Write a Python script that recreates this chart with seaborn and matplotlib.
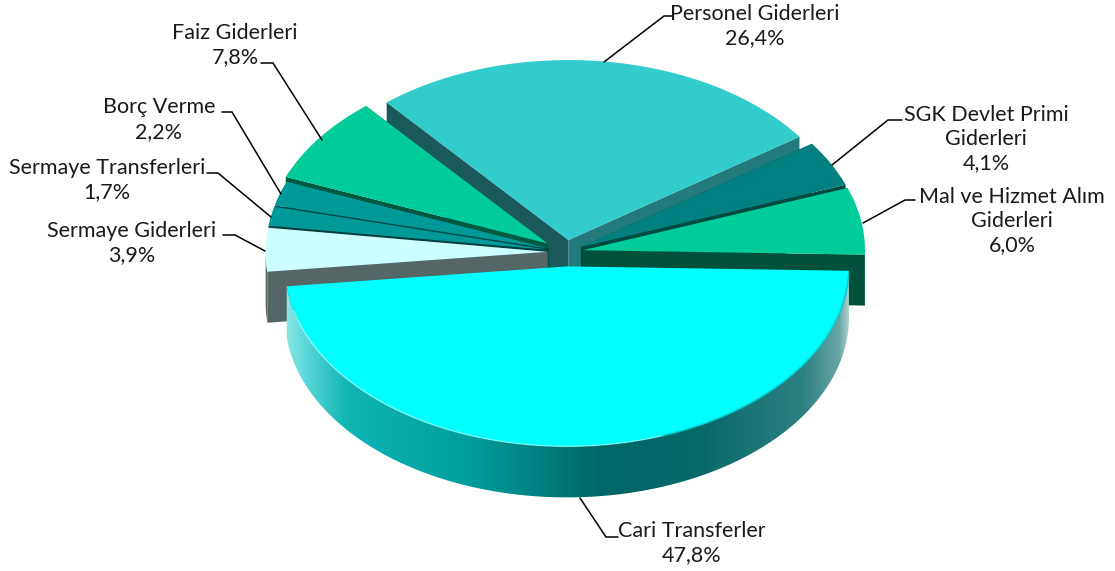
import numpy as np
import seaborn as sns
import matplotlib
matplotlib.use("Agg")
import matplotlib.pyplot as plt
from matplotlib.colors import LinearSegmentedColormap
from matplotlib.patches import Polygon

# values, counter-clockwise from the right edge of the big slice
categories = ["Mal ve Hizmet Alım\nGiderleri", "SGK Devlet Primi\nGiderleri", "Personel Giderleri",
              "Faiz Giderleri", "Borç Verme", "Sermaye Transferleri", "Sermaye Giderleri", "Cari Transferler"]
shares = [6.0, 4.1, 26.4, 7.8, 2.2, 1.7, 3.9, 47.8]

top_colors = ["#00CC99", "#008080", "#33CCCC", "#00CC99", "#009999", "#009999", "#CCFFFF", "#00FFFF"]
edge1_colors = ["#00503C", "#004A40", "#237A7A", "#006040", "#004A4A", "#004A4A", "#335555"]
edge2_colors = ["#00503C", "#004A40", "#1A5A5A", "#005A40", "#004A4A", "#003F3F", "#556666"]
explode = [0.061, 0.06, 0.067, 0.08, 0.065, 0.065, 0.065, 0.08]
draw_order = [2, 1, 3, 4, 5, 6, 0]

W, H = 1115, 571
CX, CY, RX, RY = 566, 252, 282, 180
DEPTH = 51 / RY

sns.set_theme(style="white")
plt.rcParams["font.family"] = ["Lato", "DejaVu Sans"]


def px(x, y):
    return (x - CX) / RX, (CY - y) / RY


def arc(w, a, b, n=200):
    t = np.radians(np.linspace(a, b, n))
    return np.column_stack([w.center[0] + w.r * np.cos(t), w.center[1] + w.r * np.sin(t)])


def radial_wall(w, angle):
    tip = arc(w, angle, angle, 1)[0]
    c = np.array(w.center)
    d = np.array([0, -DEPTH])
    return np.array([c, tip, tip + d, c + d])


def rim_wall(w, a, b):
    top = arc(w, a, b)
    return np.vstack([top, top[::-1] + [0, -DEPTH]])


fig = plt.figure(figsize=(W / 100, H / 100), dpi=100)
ax = fig.add_axes([0, 0, 1, 1])
wedges, _ = ax.pie(shares, colors=sns.color_palette(top_colors), explode=explode,
                   startangle=-1.4, counterclock=True, radius=1,
                   wedgeprops={"linewidth": 0})
ax.set_aspect("auto")

for rank, i in enumerate(draw_order):
    w = wedges[i]
    z = 3 * rank + 1
    w.set_zorder(z + 1)
    ax.fill(*radial_wall(w, w.theta1).T, color=edge1_colors[i], lw=0, zorder=z)
    ax.fill(*radial_wall(w, w.theta2).T, color=edge2_colors[i], lw=0, zorder=z)
    # outer wall, only where it faces the viewer
    if i == 0:
        ax.fill(*rim_wall(w, w.theta1, 0).T, color=edge1_colors[i], lw=0, zorder=z)
    if i == 6:
        ax.fill(*rim_wall(w, 180, w.theta2).T, color=edge2_colors[i], lw=0, zorder=z)

# shaded outer wall of the big slice
big = wedges[7]
big.set_zorder(3 * 7 + 1)
stops = [(0.0, "#8CE6E6"), (0.04, "#55D5D5"), (0.11, "#10B4B4"), (0.31, "#00A0A0"), (0.45, "#008080"),
         (0.565, "#006666"), (0.75, "#0A6A6A"), (0.92, "#2D8080"), (0.985, "#6AA6A6"), (1.0, "#A8CCCC")]
shade = LinearSegmentedColormap.from_list("rim", stops)
x0, x1 = big.center[0] - big.r, big.center[0] + big.r
img = ax.imshow(np.linspace(0, 1, 512)[None, :], cmap=shade, aspect="auto",
                extent=(x0, x1, -2, 2), zorder=3 * 7, interpolation="bilinear")
img.set_clip_path(Polygon(rim_wall(big, big.theta1, big.theta2), transform=ax.transData))
ax.plot(*arc(big, big.theta1 + 8, 290).T, color="#C8FFFF", lw=1.0, alpha=0.5, zorder=3 * 7 + 2)
ax.plot(*arc(big, 290, big.theta2 - 2).T, color="#00C8C8", lw=1.4, alpha=0.7, zorder=3 * 7 + 2)

ax.set_xlim(px(0, 0)[0], px(W, 0)[0])
ax.set_ylim(px(0, H)[1], px(0, 0)[1])
ax.set_axis_off()

# label anchors and leader lines, in picture pixels
label_pos = [(1012, 221), (986, 139), (755, 26), (235, 45), (159, 119.5), (107, 180), (132, 243), (692, 543)]
leaders = [
    [(863, 223), (905, 200), (915, 200)],
    [(832, 165), (888, 120), (902, 120)],
    [(604, 62), (664, 16), (673, 16)],
    [(322, 140), (273, 63), (261, 63)],
    [(281, 194), (232, 112), (222, 112)],
    [(271, 217), (218, 173), (207, 173)],
    [(265, 251), (235, 235), (223, 235)],
    [(580, 498), (606, 537), (618, 537)],
]

for name, share, pos, line in zip(categories, shares, label_pos, leaders):
    text = f"{name}\n{share:.1f}%".replace(".", ",")
    ax.text(*px(*pos), text, ha="center", va="center", fontsize=15.5, color="#1A1A1A",
            linespacing=1.27, zorder=40)
    pts = np.array([px(*p) for p in line])
    ax.plot(pts[:, 0], pts[:, 1], color="black", lw=1.1, zorder=39, solid_joinstyle="miter")

fig.savefig("out.png", dpi=100)
